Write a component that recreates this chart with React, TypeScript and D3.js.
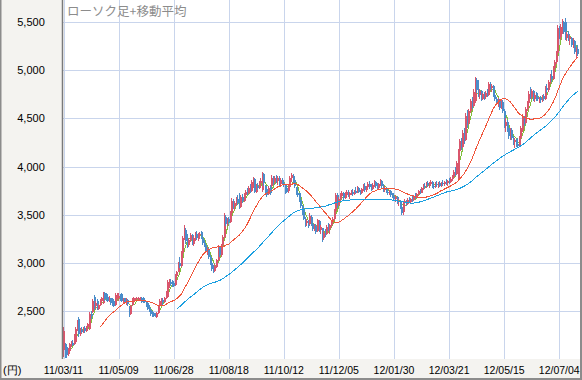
import React from "react";
import * as d3 from "d3";

const opens = [
  2100,2160,2130,2050,2080,2160,2170,2160,2180,2310,
  2420,2260,2300,2280,2320,2290,2330,2310,2470,2490,
  2650,2550,2600,2520,2560,2600,2580,2690,2680,2650,
  2610,2630,2620,2600,2560,2660,2640,2660,2680,2600,
  2630,2580,2610,2540,2470,2560,2600,2610,2620,2610,
  2620,2640,2630,2610,2580,2580,2530,2510,2490,2480,
  2470,2440,2480,2550,2570,2610,2590,2630,2650,2780,
  2800,2810,2790,2770,2860,2910,3000,2970,3100,3260,
  3340,3230,3180,3240,3290,3200,3260,3300,3260,3290,
  3320,3260,3210,3180,3130,3130,3060,3000,2950,2920,
  2960,3030,3160,3080,3180,3270,3480,3400,3450,3420,
  3520,3640,3580,3620,3660,3700,3580,3680,3640,3700,
  3740,3720,3780,3750,3840,3870,3740,3800,3780,3830,
  3760,3920,3800,3770,3710,3790,3800,3880,3840,3880,
  3850,3880,3820,3860,3830,3810,3780,3750,3790,3880,
  3900,3860,3790,3720,3720,3650,3590,3560,3460,3410,
  3430,3400,3480,3400,3350,3380,3330,3430,3340,3360,
  3260,3310,3300,3370,3350,3390,3420,3460,3540,3700,
  3600,3660,3690,3730,3670,3700,3740,3700,3720,3740,
  3710,3750,3730,3780,3740,3720,3770,3800,3760,3790,
  3820,3790,3770,3810,3840,3800,3780,3820,3850,3800,
  3760,3780,3740,3720,3750,3700,3690,3660,3680,3630,
  3640,3580,3530,3620,3640,3610,3650,3630,3660,3650,
  3690,3680,3710,3750,3730,3780,3800,3790,3830,3810,
  3820,3840,3800,3790,3820,3810,3830,3800,3830,3820,
  3840,3830,3850,3840,3870,3890,3940,3920,3880,4160,
  4260,4200,4350,4280,4520,4450,4580,4680,4630,4680,
  4900,4800,4740,4780,4700,4750,4720,4760,4740,4860,
  4810,4840,4740,4700,4660,4690,4610,4670,4580,4420,
  4460,4400,4320,4380,4300,4250,4280,4230,4210,4300,
  4380,4510,4450,4600,4660,4750,4720,4780,4700,4740,
  4720,4690,4710,4690,4730,4700,4820,4790,4880,4940,
  4910,5020,5080,5180,5440,5340,5400,5500,5500,5330,
  5380,5320,5330,5260,5300,5190,5220,
];

const highs = [
  2330,2170,2150,2120,2170,2190,2200,2260,2330,2410,
  2440,2320,2330,2330,2340,2340,2380,2490,2500,2620,
  2670,2600,2620,2570,2620,2650,2700,2700,2690,2670,
  2660,2640,2640,2620,2690,2690,2690,2680,2690,2640,
  2640,2630,2620,2550,2560,2640,2650,2640,2650,2650,
  2650,2650,2650,2630,2590,2590,2560,2530,2500,2490,
  2480,2490,2560,2620,2640,2630,2650,2710,2820,2830,
  2830,2820,2810,2880,2920,3010,3060,3120,3280,3390,
  3360,3300,3260,3310,3300,3280,3320,3330,3310,3320,
  3330,3280,3240,3200,3160,3150,3080,3020,2980,2990,
  3040,3180,3170,3200,3290,3520,3500,3470,3480,3540,
  3670,3660,3640,3680,3700,3720,3700,3710,3720,3760,
  3780,3800,3820,3860,3890,3880,3820,3830,3850,3880,
  3940,3930,3810,3790,3800,3810,3910,3900,3900,3910,
  3900,3900,3880,3880,3850,3810,3800,3810,3900,3930,
  3920,3880,3790,3760,3730,3680,3600,3580,3480,3450,
  3440,3520,3500,3420,3400,3400,3460,3440,3390,3360,
  3330,3350,3390,3410,3400,3440,3480,3560,3730,3720,
  3680,3720,3750,3740,3740,3760,3760,3740,3760,3770,
  3760,3790,3800,3790,3760,3780,3820,3830,3800,3840,
  3850,3820,3830,3860,3850,3830,3830,3870,3860,3820,
  3800,3790,3770,3760,3760,3730,3720,3700,3690,3660,
  3650,3600,3640,3660,3650,3670,3680,3670,3690,3700,
  3720,3730,3760,3770,3790,3820,3830,3840,3850,3840,
  3860,3850,3830,3840,3850,3840,3850,3840,3860,3850,
  3870,3860,3880,3890,3910,3960,4000,4060,4180,4290,
  4300,4380,4400,4560,4590,4600,4700,4720,4800,4930,
  4920,4900,4800,4790,4760,4770,4780,4800,4880,4880,
  4860,4850,4760,4720,4710,4700,4690,4690,4600,4500,
  4480,4410,4400,4400,4320,4300,4290,4300,4320,4420,
  4540,4520,4620,4680,4780,4830,4800,4790,4760,4770,
  4760,4720,4730,4740,4750,4840,4860,4900,4960,5000,
  5040,5110,5200,5470,5460,5480,5530,5510,5540,5400,
  5410,5360,5340,5330,5310,5240,5260,
];

const lows = [
  2020,2010,2015,2030,2070,2130,2140,2150,2170,2290,
  2230,2240,2270,2270,2270,2280,2300,2300,2420,2480,
  2510,2520,2510,2510,2550,2580,2570,2600,2600,2590,
  2590,2560,2550,2540,2550,2620,2600,2600,2590,2580,
  2570,2560,2550,2440,2460,2550,2590,2600,2600,2600,
  2600,2580,2580,2580,2540,2510,2490,2450,2440,2440,
  2440,2430,2470,2540,2560,2560,2580,2620,2640,2740,
  2760,2750,2750,2760,2840,2900,2950,2960,3080,3240,
  3200,3150,3160,3220,3180,3170,3230,3240,3230,3250,
  3250,3190,3160,3100,3080,3040,2980,2920,2890,2900,
  2950,3020,3060,3060,3170,3260,3380,3380,3400,3410,
  3500,3560,3550,3600,3600,3560,3570,3620,3630,3680,
  3700,3710,3730,3740,3780,3720,3720,3760,3770,3790,
  3740,3800,3700,3680,3700,3700,3790,3810,3820,3830,
  3810,3800,3790,3810,3790,3710,3720,3720,3780,3840,
  3830,3780,3700,3680,3630,3570,3500,3440,3370,3380,
  3360,3390,3380,3330,3330,3300,3320,3320,3300,3220,
  3240,3270,3290,3330,3300,3370,3400,3440,3530,3570,
  3590,3640,3670,3650,3660,3680,3680,3660,3700,3690,
  3700,3720,3720,3720,3700,3710,3750,3740,3740,3770,
  3770,3750,3760,3790,3780,3760,3770,3800,3780,3740,
  3740,3720,3700,3700,3680,3670,3640,3630,3610,3590,
  3560,3500,3500,3600,3590,3600,3620,3610,3630,3640,
  3660,3670,3700,3710,3720,3760,3770,3780,3790,3780,
  3800,3780,3770,3780,3790,3780,3790,3790,3800,3800,
  3810,3800,3820,3830,3850,3880,3900,3910,3860,4120,
  4170,4190,4230,4260,4400,4430,4560,4600,4620,4660,
  4760,4720,4700,4680,4690,4690,4700,4720,4730,4790,
  4770,4720,4680,4640,4620,4590,4600,4560,4400,4360,
  4360,4290,4280,4280,4220,4190,4200,4190,4200,4290,
  4360,4420,4440,4580,4640,4700,4700,4680,4670,4680,
  4680,4660,4660,4670,4680,4690,4760,4770,4860,4880,
  4900,5000,5060,5160,5320,5310,5380,5380,5310,5300,
  5300,5260,5240,5230,5170,5130,5150,
];

const closes = [
  2290,2050,2040,2100,2160,2170,2150,2240,2310,2390,
  2260,2300,2280,2320,2290,2330,2360,2470,2450,2600,
  2540,2580,2530,2560,2600,2630,2680,2620,2610,2600,
  2640,2580,2560,2550,2670,2680,2660,2620,2600,2620,
  2590,2610,2570,2460,2550,2620,2630,2630,2640,2630,
  2640,2590,2600,2590,2560,2520,2500,2470,2460,2450,
  2450,2480,2550,2600,2630,2590,2630,2700,2800,2800,
  2780,2770,2760,2860,2900,2990,2970,3100,3260,3340,
  3230,3180,3240,3290,3200,3260,3300,3260,3290,3300,
  3260,3210,3180,3120,3140,3060,3000,2940,2920,2970,
  3030,3160,3080,3180,3270,3480,3400,3450,3420,3520,
  3640,3580,3620,3660,3620,3580,3680,3640,3700,3740,
  3720,3780,3750,3840,3870,3740,3800,3780,3830,3850,
  3920,3830,3720,3700,3780,3720,3880,3840,3880,3850,
  3880,3820,3860,3830,3810,3740,3740,3790,3880,3910,
  3860,3800,3720,3700,3650,3590,3520,3460,3390,3430,
  3380,3490,3400,3350,3380,3320,3440,3340,3370,3250,
  3310,3290,3370,3350,3390,3420,3460,3540,3700,3600,
  3660,3700,3730,3670,3720,3740,3700,3720,3740,3710,
  3750,3730,3780,3740,3720,3770,3800,3760,3790,3820,
  3790,3770,3810,3840,3800,3780,3820,3850,3800,3760,
  3780,3740,3720,3750,3700,3690,3660,3680,3630,3640,
  3580,3520,3620,3640,3610,3650,3630,3660,3650,3690,
  3680,3710,3750,3730,3780,3800,3790,3830,3810,3820,
  3840,3800,3790,3820,3810,3830,3800,3830,3820,3840,
  3830,3850,3840,3870,3890,3940,3920,4040,4160,4260,
  4200,4350,4280,4520,4450,4580,4680,4630,4770,4900,
  4790,4740,4780,4710,4750,4720,4760,4740,4860,4810,
  4840,4740,4700,4660,4690,4610,4670,4580,4420,4460,
  4380,4320,4380,4300,4250,4280,4230,4210,4300,4400,
  4510,4450,4600,4660,4750,4720,4780,4700,4740,4720,
  4700,4710,4690,4730,4700,4820,4790,4880,4940,4910,
  5020,5080,5180,5440,5360,5450,5500,5400,5330,5380,
  5320,5340,5260,5300,5190,5220,5170,
];

const dateLabels = ["11/03/11","11/05/09","11/06/28","11/08/18","11/10/12","11/12/05","12/01/30","12/03/21","12/05/15","12/07/04"];
const dateTickDays = [0,36,72,108,144,180,216,252,288,324];
const priceTicks = [2500,3000,3500,4000,4500,5000,5500];
const maPeriods = [5,25,75];
const maColors = ["#7fbf3a","#f0553a","#1a9fe0"];
const title = "ローソク足+移動平均";
const unitLabel = "(円)";

const W = 582, H = 380;
const PL = 63, PR = 580, PT = 0, PB = 359;
const UP = "#d9566c", DOWN = "#4a8dca";
const PANEL = "#f4f3f0", GRID = "#c9d5ec", BORDER = "#8c8c8c";

function sma(vals: number[], n: number): (number | null)[] {
  return vals.map((_, i) => (i < n - 1 ? null : (d3.mean(vals.slice(i - n + 1, i + 1)) as number)));
}

export default function App() {
  const x = d3.scaleLinear().domain([0, closes.length - 1]).range([63.5, 577.6]);
  const y = d3.scaleLinear().domain([2500, 5500]).range([311, 22]);
  const line = d3.line<[number, number | null]>()
    .defined((d) => d[1] != null)
    .x((d) => x(d[0]))
    .y((d) => y(d[1] as number));
  const maPath = (k: number) => {
    const m = sma(closes, maPeriods[k]).map((v, i) => [i, v] as [number, number | null]);
    return <path key={k} d={line(m) || ""} fill="none" stroke={maColors[k]} strokeWidth={1} />;
  };

  return (
    <>
      <style>{"body{margin:0}"}</style>
      <svg width={W} height={H} style={{ display: "block" }} fontFamily="'Liberation Sans', Arial, sans-serif">
        <defs>
          <clipPath id="plot">
            <rect x={PL} y={PT} width={PR - PL} height={PB - PT} />
          </clipPath>
        </defs>
        <rect x={0} y={0} width={W} height={H} fill={PANEL} />
        <rect x={PL} y={PT} width={PR - PL} height={PB - PT} fill="#fff" />
        {priceTicks.map((t) => (
          <line key={"h" + t} x1={PL} x2={PR} y1={Math.round(y(t)) + 0.5} y2={Math.round(y(t)) + 0.5} stroke={GRID} />
        ))}
        {dateTickDays.map((d) => (
          <line key={"v" + d} x1={Math.round(x(d)) + 0.5} x2={Math.round(x(d)) + 0.5} y1={PT} y2={PB} stroke={GRID} />
        ))}
        <text x={67} y={16} fill="#8c8c8c" fontSize={12.5} fontFamily="'Noto Sans CJK JP', sans-serif">{title}</text>
        <g clipPath="url(#plot)" shapeRendering="crispEdges">
          {maPath(0)}
          {closes.map((c, i) => {
            const o = opens[i];
            const col = c >= o ? UP : DOWN;
            const cx = Math.floor(x(i));
            const top = y(Math.max(o, c));
            const bot = y(Math.min(o, c));
            return (
              <g key={i}>
                <line x1={cx + 0.5} x2={cx + 0.5} y1={y(highs[i])} y2={y(lows[i])} stroke={col} />
                <rect x={cx} y={top} width={2} height={Math.max(1, bot - top)} fill={col} />
              </g>
            );
          })}
          {maPath(1)}
          {maPath(2)}
        </g>
        {priceTicks.map((t) => (
          <text key={"yl" + t} x={31} y={y(t) + 4} textAnchor="middle" fontSize={11} fill="#000">
            {d3.format(",")(t)}
          </text>
        ))}
        {dateTickDays.map((d, i) => (
          <text key={"xl" + d} x={x(d)} y={374} textAnchor="middle" fontSize={10.5} fill="#000">
            {dateLabels[i]}
          </text>
        ))}
        <text x={3} y={374} fontSize={11} fill="#000">{unitLabel}</text>
        <line x1={62.5} x2={62.5} y1={0} y2={PB} stroke="#7a7a7a" strokeWidth={1.5} />
        <line x1={0.75} x2={0.75} y1={0} y2={H} stroke={BORDER} strokeWidth={1.5} />
        <line x1={581} x2={581} y1={0} y2={H} stroke={BORDER} strokeWidth={2} />
        <line x1={0} x2={W} y1={379} y2={379} stroke={BORDER} strokeWidth={2} />
      </svg>
    </>
  );
}
